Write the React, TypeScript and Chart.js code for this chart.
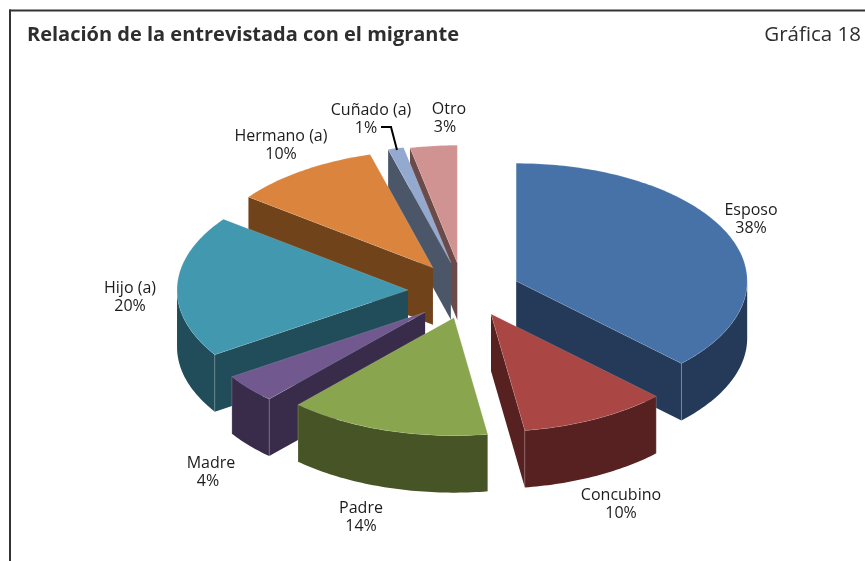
import React, { useEffect, useRef } from "react";
import { Chart, registerables } from "chart.js";

Chart.register(...registerables);

const categories = ["Esposo", "Concubino", "Padre", "Madre", "Hijo (a)", "Hermano (a)", "Cuñado (a)", "Otro"];
const values = [37.5, 10.4, 14.2, 4.0, 19.6, 10.4, 1.1, 3.3];
const topColors = ["#4672A8", "#AA4643", "#89A54E", "#71588F", "#4198AF", "#DB843D", "#93A9CF", "#D19392"];
const sideColors = ["#243A58", "#562120", "#465426", "#392C4A", "#204D59", "#71431B", "#4B5769", "#6B4B4A"];
const titleText = "Relación de la entrevistada con el migrante";
const chartTag = "Gráfica 18";

// styling only: label anchors, percent-line shift, small per-slice perspective shift
const labelAnchors = [
  [751, 210], [621, 495], [361, 508], [211, 463],
  [130, 288], [281, 136], [371, 110], [449, 109],
];
const percentShift = [0, 0, 0, -3, 0, 0, -5, -4];
const sliceShift = [
  [2.5, 0], [3, -3], [7, -1], [4, 2],
  [0, -1], [1, -1], [1, -2], [0, -1],
];

const TILT = 0.51;
const DEPTH = 57;
const EXPLODE = 55;
const RADIUS = 231;
const FONT = '"Open Sans", "Noto Sans", sans-serif';
const INK = "#1c1c1c";

const pie3d = {
  id: "pie3d",
  beforeDatasetDraw(chart: any, args: any) {
    const { ctx } = chart;
    const arcs = chart.getDatasetMeta(args.index).data as any[];
    const geom = arcs.map((arc, i) => {
      const mid = (arc.startAngle + arc.endAngle) / 2;
      const off = arc.options.offset;
      return {
        i, arc, depthKey: Math.sin(mid),
        cx: arc.x + Math.cos(mid) * off + sliceShift[i][0],
        cy: arc.y + Math.sin(mid) * off * TILT + sliceShift[i][1],
      };
    });
    geom.sort((a, b) => a.depthKey - b.depthKey);
    const rim = (g: any, from: number, to: number) => {
      const r = g.arc.outerRadius;
      const n = Math.max(2, Math.ceil(((to - from) * 180) / Math.PI));
      const pts: number[][] = [];
      for (let k = 0; k <= n; k++) {
        const a = from + ((to - from) * k) / n;
        pts.push([g.cx + Math.cos(a) * r, g.cy + Math.sin(a) * r * TILT]);
      }
      return pts;
    };
    const fillPoly = (pts: number[][], color: string) => {
      ctx.beginPath();
      pts.forEach(([x, y], k) => (k ? ctx.lineTo(x, y) : ctx.moveTo(x, y)));
      ctx.closePath();
      ctx.fillStyle = color;
      ctx.fill();
    };
    const down = (pts: number[][]) => pts.map(([x, y]) => [x, y + DEPTH]);
    for (const g of geom) {
      const side = sideColors[g.i];
      const { startAngle: sa, endAngle: ea } = g.arc;
      const top = rim(g, sa, ea);
      const tip = [g.cx, g.cy];
      const first = top[0];
      const last = top[top.length - 1];
      ctx.save();
      // cut faces that look toward the viewer
      if (Math.cos(sa) < -1e-6) fillPoly([tip, first, ...down([first]), ...down([tip])], side);
      if (Math.cos(ea) > 1e-6) fillPoly([tip, last, ...down([last]), ...down([tip])], side);
      // curved wall: only its front half
      const lo = Math.max(sa, 0);
      const hi = Math.min(ea, Math.PI);
      if (hi > lo) {
        const front = rim(g, lo, hi);
        fillPoly([...front, ...down(front).reverse()], side);
      }
      // faint corner highlights
      ctx.strokeStyle = "rgba(255,255,255,0.2)";
      ctx.lineWidth = 1;
      for (const p of [first, last]) {
        if (p[1] > g.cy) {
          ctx.beginPath();
          ctx.moveTo(p[0], p[1]);
          ctx.lineTo(p[0], p[1] + DEPTH);
          ctx.stroke();
        }
      }
      // top face
      fillPoly([tip, ...top], g.arc.options.backgroundColor);
      ctx.strokeStyle = "rgba(255,255,255,0.2)";
      ctx.lineWidth = 0.7;
      ctx.stroke();
      ctx.restore();
    }
    return false;
  },
  afterDraw(chart: any) {
    const { ctx } = chart;
    ctx.save();
    // frame
    ctx.fillStyle = "#333333";
    ctx.fillRect(9, 9.5, 856, 2);
    ctx.fillRect(9, 9.5, 2, 551.5);
    // heading
    ctx.fillStyle = "#2e2e2e";
    ctx.textBaseline = "middle";
    ctx.textAlign = "left";
    ctx.font = `bold 20px ${FONT}`;
    ctx.fillText(titleText, 27, 35);
    ctx.textAlign = "right";
    ctx.font = `20.5px ${FONT}`;
    ctx.fillText(chartTag, 861, 35);
    // labels
    ctx.fillStyle = INK;
    ctx.textAlign = "center";
    ctx.font = `16px ${FONT}`;
    categories.forEach((name, i) => {
      const [x, y] = labelAnchors[i];
      ctx.fillText(name, x, y);
      ctx.fillText(`${Math.round(values[i])}%`, x + percentShift[i], y + 18.5);
    });
    // leader line for the 1% slice
    ctx.strokeStyle = "#000000";
    ctx.lineWidth = 2;
    ctx.beginPath();
    ctx.moveTo(381, 127);
    ctx.lineTo(391, 127);
    ctx.lineTo(397, 150);
    ctx.stroke();
    ctx.restore();
  },
};

export default function App() {
  const ref = useRef<HTMLCanvasElement | null>(null);
  useEffect(() => {
    document.body.style.margin = "0";
    document.body.style.background = "#ffffff";
    const chart = new Chart(ref.current!, {
      type: "pie",
      data: {
        labels: categories,
        datasets: [{
          data: values,
          backgroundColor: topColors,
          offset: EXPLODE,
          borderWidth: 0,
        }],
      },
      options: {
        responsive: false,
        animation: false,
        radius: RADIUS,
        layout: { padding: { left: 61, top: 23 } },
        events: [],
        plugins: { legend: { display: false }, tooltip: { enabled: false }, title: { display: false } },
      } as any,
      plugins: [pie3d as any],
    });
    return () => chart.destroy();
  }, []);
  return <canvas ref={ref} width={865} height={561} style={{ display: "block" }} />;
}
